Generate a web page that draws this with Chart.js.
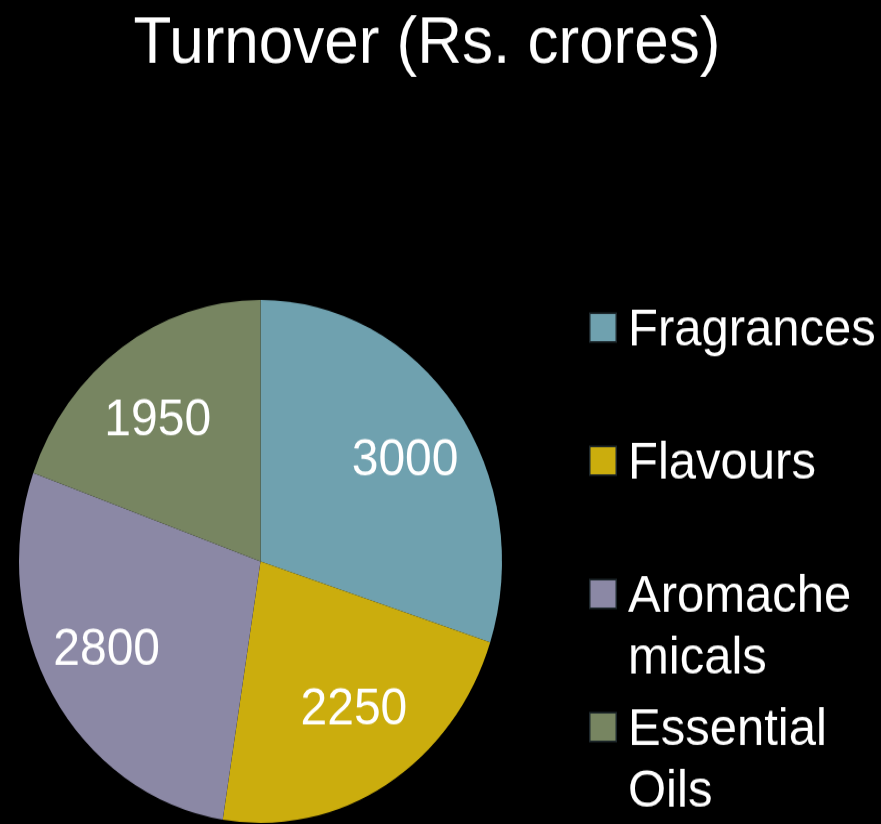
<!DOCTYPE html>
<html><head><meta charset="utf-8">
<script src="https://cdn.jsdelivr.net/npm/chart.js@4/dist/chart.umd.min.js"></script>
<style>
html,body{margin:0;padding:0;background:#000;overflow:hidden;width:881px;height:824px;}
#wrap{width:881px;height:761px;transform:scaleY(1.0828);transform-origin:0 0;}
canvas{display:block;}
</style></head><body>
<div id="wrap"><canvas id="c" width="881" height="761"></canvas></div>
<script>
const titleText = 'Turnover (Rs. crores)';
const categories = ['Fragrances', 'Flavours', 'Aromachemicals', 'Essential Oils'];
const turnover = [3000, 2250, 2800, 1950];
const sliceColors = ['#6FA1AF', '#CBAD0D', '#8B88A5', '#778561'];

const FONT = '"Liberation Sans", Arial, sans-serif';

function wrapText(ctx, text, maxW) {
  const words = text.split(' ');
  const lines = [];
  let cur = '';
  const pushWord = (w) => {
    let piece = '';
    for (const ch of w) {
      if (ctx.measureText(piece + ch).width > maxW && piece) { lines.push(piece); piece = ch; }
      else piece += ch;
    }
    return piece;
  };
  for (const w of words) {
    const test = cur ? cur + ' ' + w : w;
    if (ctx.measureText(test).width <= maxW) { cur = test; continue; }
    if (cur) lines.push(cur);
    cur = ctx.measureText(w).width > maxW ? pushWord(w) : w;
  }
  if (cur) lines.push(cur);
  return lines;
}

const overlay = {
  id: 'overlay',
  afterDraw(chart) {
    const ctx = chart.ctx;
    ctx.save();
    ctx.fillStyle = '#ffffff';
    // title
    ctx.font = '62px ' + FONT;
    ctx.textAlign = 'center';
    ctx.textBaseline = 'alphabetic';
    ctx.fillText(chart.options.plugins.title.text, 427, 58);
    // value labels inside slices
    const meta = chart.getDatasetMeta(0);
    const vals = chart.data.datasets[0].data;
    ctx.font = '48px ' + FONT;
    ctx.textBaseline = 'middle';
    meta.data.forEach((arc, i) => {
      const p = arc.getProps(['x', 'y', 'startAngle', 'endAngle', 'outerRadius'], true);
      const mid = (p.startAngle + p.endAngle) / 2;
      ctx.fillText(String(vals[i]),
        p.x + Math.cos(mid) * p.outerRadius * 0.74,
        p.y + Math.sin(mid) * p.outerRadius * 0.66 + 1);
    });
    // legend
    ctx.textAlign = 'left';
    ctx.textBaseline = 'alphabetic';
    ctx.font = '49px ' + FONT;
    const colors = chart.data.datasets[0].backgroundColor;
    let base = 318.5;
    chart.data.labels.forEach((lab, i) => {
      ctx.fillStyle = 'rgba(30,40,45,1)';
      ctx.fillRect(589, base - 30, 28, 28);
      ctx.fillStyle = colors[i];
      ctx.fillRect(590.5, base - 28.5, 25, 25);
      ctx.fillStyle = '#ffffff';
      const lines = wrapText(ctx, lab, 252);
      lines.forEach((ln, j) => ctx.fillText(ln, 628, base + j * 57));
      base += 123;
    });
    ctx.restore();
  }
};

new Chart(document.getElementById('c'), {
  type: 'pie',
  data: {
    labels: categories,
    datasets: [{
      data: turnover,
      backgroundColor: sliceColors,
      borderWidth: 0
    }]
  },
  options: {
    responsive: false,
    animation: false,
    layout: { padding: { left: 19, right: 379, top: 277, bottom: 1 } },
    plugins: {
      title: { display: false, text: titleText },
      legend: { display: false },
      tooltip: { enabled: false }
    }
  },
  plugins: [overlay]
});
</script>
</body></html>
